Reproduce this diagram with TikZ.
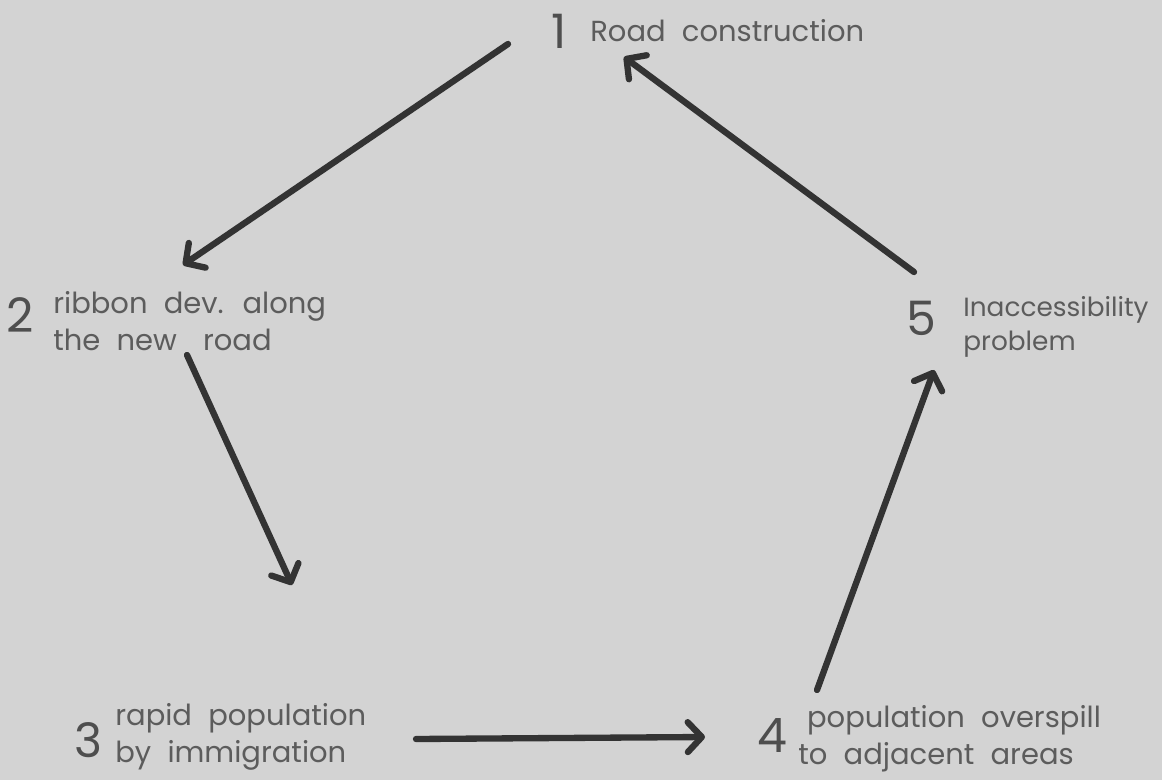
\documentclass[tikz,border=0pt]{standalone}
\usepackage{fontspec}
\setmainfont{Poppins}[WordSpace=2.1]
\usetikzlibrary{arrows.meta}
\definecolor{paper}{HTML}{D3D3D3}
\definecolor{ink}{HTML}{5C5C5C}
\definecolor{pen}{HTML}{333333}
\tikzset{
  num/.style={text=ink!85!black, font=\fontsize{27}{27}\selectfont, inner sep=0pt},
  lbl/.style={text=ink, font=\fontsize{16.5}{20.5}\selectfont, align=left, inner sep=0pt, anchor=base west},
  flow/.style={draw=pen, line width=3.6pt, line cap=round,
    -{Straight Barb[length=8pt,width=17pt,line width=3.6pt,round]}}
}
\begin{document}
\begin{tikzpicture}[x=0.02cm,y=-0.02cm]
  \fill[paper] (0,0) rectangle (1162,780);
  % stages of the cycle (label anchor sits on the last line)
  \node[num] (n1) at (559,31) {1};
  \node[lbl] (t1) at (590,42) {Road construction};
  \node[num] (n2) at (20,315) {2};
  \node[lbl] (t2) at (53,350) {ribbon dev. along\\the new\hspace{0.9em}road};
  \node[num] (n3) at (88,740) {3};
  \node[lbl] (t3) at (115,762) {rapid population\\by immigration};
  \node[num] (n4) at (772,736) {4};
  \node[lbl] (t4) at (798,764) {\hspace*{5pt}population overspill\\to adjacent areas};
  \node[num] (n5) at (921,318) {5};
  \node[lbl, font=\fontsize{15}{19}\selectfont] (t5) at (963,350) {Inaccessibility\\problem};
  % arrow ends
  \coordinate (a1) at (508,44);
  \coordinate (b2) at (183,265);
  \coordinate (a2) at (187,355);
  \coordinate (b3) at (292,585);
  \coordinate (a3) at (416,739);
  \coordinate (b4) at (705,737);
  \coordinate (a4) at (817,690);
  \coordinate (b5) at (934,370);
  \coordinate (a5) at (914,272);
  \coordinate (b1) at (624,57);
  \draw[flow] (a1) -- (b2);
  \draw[flow] (a2) -- (b3);
  \draw[flow] (a3) -- (b4);
  \draw[flow] (a4) -- (b5);
  \draw[flow] (a5) -- (b1);
\end{tikzpicture}
\end{document}
